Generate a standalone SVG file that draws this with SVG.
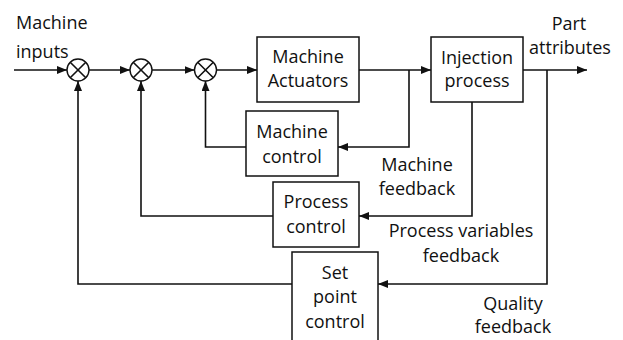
<svg xmlns="http://www.w3.org/2000/svg" width="623" height="340" viewBox="0 0 623 340">
<style>
.box{fill:#fff;stroke:#111;stroke-width:1.5}
.ln{fill:none;stroke:#111;stroke-width:1.6}
.j{fill:#fff;stroke:#111;stroke-width:1.4}
text{font-family:"Open Sans","Liberation Sans",Arial,sans-serif;font-size:18px;fill:#111}
.c{text-anchor:middle}
</style>
<defs>
<marker id="ah" viewBox="0 0 10 8" refX="10" refY="4" markerWidth="10" markerHeight="8" markerUnits="userSpaceOnUse" orient="auto">
<path d="M0,0 L10,4 L0,8 Z" fill="#111"/>
</marker>
</defs>
<g id="connectors">
<path class="ln" d="M14,70 H67" marker-end="url(#ah)"/>
<path class="ln" d="M89,70 H130" marker-end="url(#ah)"/>
<path class="ln" d="M152,70 H194.5" marker-end="url(#ah)"/>
<path class="ln" d="M216.5,70 H257" marker-end="url(#ah)"/>
<path class="ln" d="M359,70 H431" marker-end="url(#ah)"/>
<path class="ln" d="M523,70 H587" marker-end="url(#ah)"/>
<path class="ln" d="M409,70 V147 H338" marker-end="url(#ah)"/>
<path class="ln" d="M246,147 H205.5 V81" marker-end="url(#ah)"/>
<path class="ln" d="M472,102 V216 H359" marker-end="url(#ah)"/>
<path class="ln" d="M273,216 H141 V81" marker-end="url(#ah)"/>
<path class="ln" d="M547,70 V284 H378" marker-end="url(#ah)"/>
<path class="ln" d="M292,284 H78 V81" marker-end="url(#ah)"/>
</g>
<g id="sum1"><circle class="j" cx="78" cy="70" r="11"/><path class="ln" stroke-width="1.3" d="M70.2,62.2 L85.8,77.8 M85.8,62.2 L70.2,77.8"/></g>
<g id="sum2"><circle class="j" cx="141" cy="70" r="11"/><path class="ln" stroke-width="1.3" d="M133.2,62.2 L148.8,77.8 M148.8,62.2 L133.2,77.8"/></g>
<g id="sum3"><circle class="j" cx="205.5" cy="70" r="11"/><path class="ln" stroke-width="1.3" d="M197.7,62.2 L213.3,77.8 M213.3,62.2 L197.7,77.8"/></g>
<g id="machine-actuators"><rect class="box" x="257" y="37" width="102" height="65"/><text class="c" x="308" y="63">Machine</text><text class="c" x="308" y="87">Actuators</text></g>
<g id="injection-process"><rect class="box" x="431" y="37" width="92" height="65"/><text class="c" x="477" y="64">Injection</text><text class="c" x="477" y="87">process</text></g>
<g id="machine-control"><rect class="box" x="246" y="111" width="92" height="65"/><text class="c" x="292" y="138">Machine</text><text class="c" x="292" y="163">control</text></g>
<g id="process-control"><rect class="box" x="273" y="182" width="86" height="65"/><text class="c" x="316" y="208">Process</text><text class="c" x="316" y="233">control</text></g>
<g id="set-point-control"><rect class="box" x="292" y="252" width="86" height="95"/><text class="c" x="335" y="279">Set</text><text class="c" x="335" y="303">point</text><text class="c" x="335" y="328">control</text></g>
<g id="labels">
<text x="16" y="29">Machine</text>
<text x="16" y="58">inputs</text>
<text class="c" x="569" y="30">Part</text>
<text class="c" x="570" y="54">attributes</text>
<text class="c" x="417" y="171">Machine</text>
<text class="c" x="417" y="195">feedback</text>
<text class="c" x="461" y="237">Process variables</text>
<text class="c" x="461" y="262">feedback</text>
<text class="c" x="513" y="310">Quality</text>
<text class="c" x="513" y="333">feedback</text>
</g>
</svg>
